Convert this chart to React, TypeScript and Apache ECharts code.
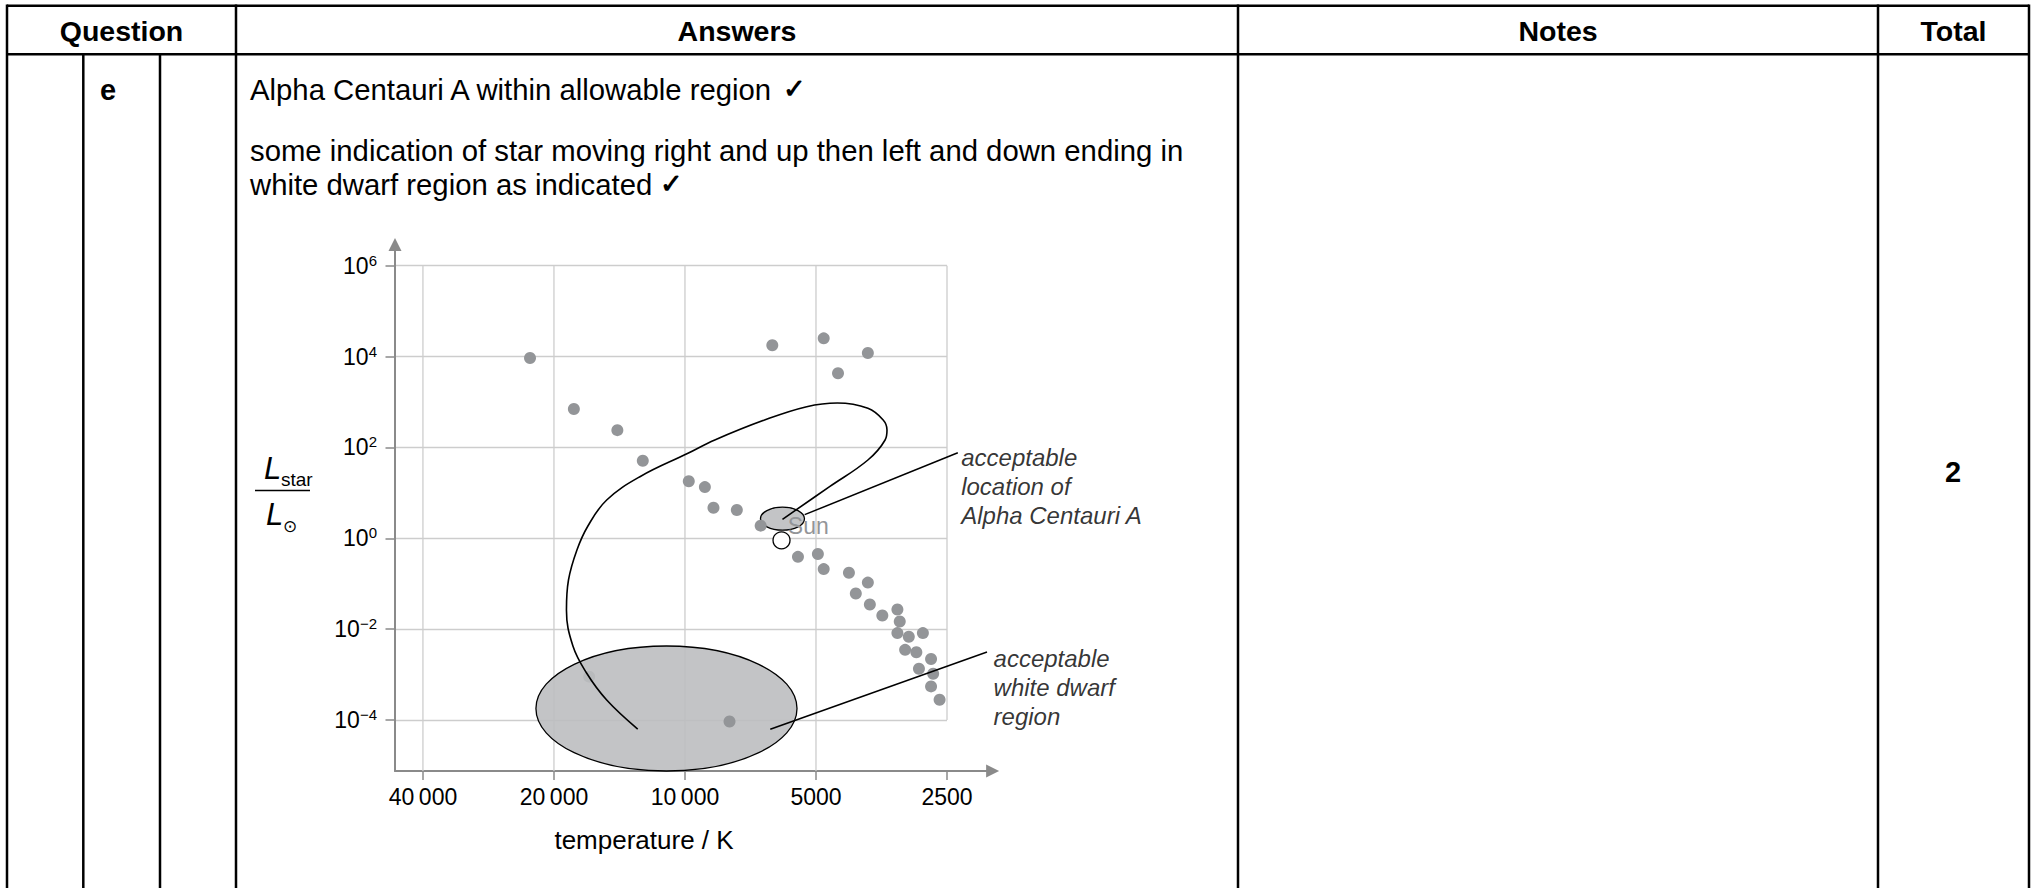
import React, { useEffect, useRef } from "react";
import * as echarts from "echarts";

// ---------------- data ----------------
const xTickTemps = [40000, 20000, 10000, 5000, 2500];
const xGridBottomLums = [7.55e-6, 7.55e-6, 7.55e-6, 7.55e-6, 1e-4];
const yTickLums = [1e-4, 1e-2, 1, 1e2, 1e4, 1e6];
const tempAxisHot = 46370;
const tempAxisCool = 2500;
const lumAxisMin = 7.55e-6;
const lumAxisMax = 1e6;

const mainSeqTemps = [22700, 18000, 14300, 12500, 9800, 9000, 8600, 7600, 6700, 5500, 4950, 4800, 4200, 3800, 4050, 3760, 3520, 3250, 3210, 3250, 3060, 2840, 3120, 2940, 2720, 2900, 2690, 2720, 2600];
const mainSeqLums = [9300, 700, 240, 51, 18, 13.4, 4.7, 4.2, 1.9, 0.39, 0.45, 0.21, 0.175, 0.106, 0.061, 0.035, 0.02, 0.027, 0.0147, 0.0082, 0.0068, 0.0082, 0.0035, 0.0031, 0.0022, 0.00134, 0.00104, 0.00055, 0.00028];
const giantTemps = [6300, 4800, 3800, 4450];
const giantLums = [17700, 25200, 12000, 4300];
const whiteDwarfTemps = [16600, 7900];
const whiteDwarfLums = [0.0009, 0.000093];
const hiddenDwarfIndex = 0; // this dot sits behind the shaded region
const sunTemp = 6000;
const sunLum = 0.9;

const trackTemps = [5970, 4653, 3799, 3469, 3434, 3504, 3799, 4466, 5252, 6563, 8540, 9843, 12690, 15130, 16710, 17710, 18520, 18720, 18090, 16830, 15130, 12840];
const trackLums = [2.62, 13.7, 52.9, 145.8, 242, 402, 727, 951, 789, 402, 146, 74.3, 22.7, 6.97, 1.866, 0.553, 0.1208, 0.02642, 0.004258, 0.001084, 0.000276, 0.0000634];

const regionHotTemps = [6707, 22000];
const regionCoolTemps = [5314, 5528];
const regionTopLums = [4.84, 0.004258];
const regionBottomLums = [1.507, 7.55e-6];

const leaderStartTemps = [5308, 6368];
const leaderStartLums = [3.31, 6.25e-5];
const leaderEndTemps = [2361, 2023];
const leaderEndLums = [76.6, 0.00314];

const noteTexts = ["acceptable\nlocation of\nAlpha Centauri A", "acceptable\nwhite dwarf\nregion"];
const noteTemps = [2313, 1949];
const noteLums = [122, 0.00471];

const headerTexts = ["Question", "Answers", "Notes", "Total"];
const answerLines = [
  "Alpha Centauri A within allowable region ",
  "some indication of star moving right and up then left and down ending in",
  "white dwarf region as indicated ",
];
const tickMark = "\u2713";
const questionPart = "e";
const totalMark = "2";

// ---------------- helpers ----------------
const FONT = '"Liberation Sans", Arial, Helvetica, sans-serif';
const tx = (t: number) => Math.round(Math.log2(t) * 1e9) / 1e9;
const ly = (l: number) => Math.round(Math.log10(l) * 1e9) / 1e9;
const pts = (ts: number[], ls: number[]) => ts.map((t, i) => [tx(t), ly(ls[i])]);

const DOT = "#939598";
const GRIDC = "#cdcdcd";
const AXISC = "#8a8a8a";

function fmtTemp(v: number) {
  const t = Math.round(Math.round(Math.pow(2, v)) / 100) * 100;
  if (t >= 10000) {
    return Math.floor(t / 1000) + "\u2009" + String(t % 1000).padStart(3, "0");
  }
  return String(t);
}
function fmtLum(v: number) {
  const e = Math.round(v);
  const s = e < 0 ? "\u2212" + Math.abs(e) : String(e);
  return "{b|10}{s|" + s + "}";
}

function txt(x: number, y: number, text: string, size: number, opts: any = {}) {
  return {
    type: "text",
    x,
    y,
    silent: true,
    style: {
      text,
      fill: "#000",
      fontSize: size,
      fontFamily: FONT,
      fontWeight: opts.bold ? "bold" : "normal",
      fontStyle: opts.italic ? "italic" : "normal",
      align: opts.align || "left",
      textAlign: opts.align || "left",
      verticalAlign: "middle",
      textVerticalAlign: "middle",
      rich: opts.rich,
    },
  };
}
function ln(x1: number, y1: number, x2: number, y2: number, w = 2.5) {
  return {
    type: "line",
    silent: true,
    shape: { x1, y1, x2, y2 },
    style: { stroke: "#000", lineWidth: w },
  };
}

export default function App() {
  const ref = useRef<HTMLDivElement>(null);
  useEffect(() => {
    const chart = echarts.init(ref.current as HTMLDivElement, null, { renderer: "svg", width: 2035, height: 888 });

    const answerRich = {
      a: { fontSize: 29.3, fontFamily: FONT, color: "#000" },
      c: { fontSize: 27, fontFamily: FONT, fontWeight: "bold", color: "#000" },
    };

    const colX = [7, 83.3, 160, 236, 1238, 1878, 2029];
    const topY = 5.7;
    const headY = 54.3;
    const table: any[] = [
      ln(colX[0], topY, colX[6], topY),
      ln(colX[0], headY, colX[6], headY),
      ln(colX[0], topY - 1.2, colX[0], 888),
      ln(colX[1], headY, colX[1], 888),
      ln(colX[2], headY, colX[2], 888),
      ln(colX[3], topY - 1.2, colX[3], 888),
      ln(colX[4], topY - 1.2, colX[4], 888),
      ln(colX[5], topY - 1.2, colX[5], 888),
      ln(colX[6], topY - 1.2, colX[6], 888),
      txt((colX[0] + colX[3]) / 2, 31, headerTexts[0], 28.5, { bold: true, align: "center" }),
      txt((colX[3] + colX[4]) / 2, 31, headerTexts[1], 28.5, { bold: true, align: "center" }),
      txt((colX[4] + colX[5]) / 2, 31, headerTexts[2], 28.5, { bold: true, align: "center" }),
      txt((colX[5] + colX[6]) / 2, 31, headerTexts[3], 28.5, { bold: true, align: "center" }),
      txt(108, 90, questionPart, 29, { bold: true, align: "center" }),
      txt(1953, 472, totalMark, 29, { bold: true, align: "center" }),
      txt(250, 89, "{a|" + answerLines[0] + "}{c|" + tickMark + "}", 29.3, { rich: answerRich }),
      txt(250, 150, answerLines[1], 29.3),
      txt(250, 184, "{a|" + answerLines[2] + "}{c|" + tickMark + "}", 29.3, { rich: answerRich }),
      // y-axis title: L_star / L_sun
      txt(264, 468, "L", 31, { italic: true }),
      txt(281, 479, "star", 19),
      ln(255, 490.5, 310, 490.5, 1.5),
      txt(266, 514, "L", 31, { italic: true }),
      txt(283, 526, "\u2299", 17),
    ];

    const ellipseData = regionHotTemps.map((t, i) => [tx(t), tx(regionCoolTemps[i]), ly(regionTopLums[i]), ly(regionBottomLums[i])]);
    const leaderData = leaderStartTemps.map((t, i) => [tx(t), ly(leaderStartLums[i]), tx(leaderEndTemps[i]), ly(leaderEndLums[i])]);
    const vGridData = xTickTemps.map((t, i) => [tx(t), ly(lumAxisMax), ly(xGridBottomLums[i])]);

    const mainPts = pts(mainSeqTemps, mainSeqLums)
      .concat(pts(giantTemps, giantLums))
      .concat(pts(whiteDwarfTemps, whiteDwarfLums).filter((_, i) => i !== hiddenDwarfIndex));
    const hiddenPts = pts(whiteDwarfTemps, whiteDwarfLums).filter((_, i) => i === hiddenDwarfIndex);

    const option: any = {
      animation: false,
      backgroundColor: "#fff",
      textStyle: { fontFamily: FONT },
      grid: [
        { left: 395, top: 265.7, width: 552, height: 505.3, containLabel: false },
        { left: 395, top: 244.5, width: 597.6, height: 526.5, containLabel: false },
      ],
      xAxis: [
        {
          type: "value",
          gridIndex: 0,
          min: tx(tempAxisCool),
          max: tx(tempAxisHot),
          inverse: true,
          axisLine: { show: false, onZero: false },
          axisTick: {
            show: true,
            length: 9,
            customValues: xTickTemps.map(tx),
            lineStyle: { color: AXISC, width: 1.5 },
          },
          axisLabel: {
            customValues: xTickTemps.map(tx),
            formatter: fmtTemp,
            fontSize: 23,
            fontFamily: FONT,
            color: "#000",
            margin: 14,
          },
          splitLine: { show: false },
          name: "temperature / K",
          nameLocation: "middle",
          nameGap: 56,
          nameTextStyle: { fontSize: 26, fontFamily: FONT, color: "#000", padding: [0, 54, 0, 0] },
        },
        {
          type: "value",
          gridIndex: 1,
          min: 0,
          max: 1,
          axisLine: {
            show: true,
            onZero: false,
            symbol: ["none", "triangle"],
            symbolSize: [13, 13],
            lineStyle: { color: AXISC, width: 2 },
          },
          axisTick: { show: false },
          axisLabel: { show: false },
          splitLine: { show: false },
        },
      ],
      yAxis: [
        {
          type: "value",
          gridIndex: 0,
          min: ly(lumAxisMin),
          max: ly(lumAxisMax),
          axisLine: { show: false, onZero: false },
          axisTick: {
            show: true,
            length: 9.5,
            customValues: yTickLums.map(ly),
            lineStyle: { color: AXISC, width: 1.5 },
          },
          axisLabel: {
            customValues: yTickLums.map(ly),
            formatter: fmtLum,
            margin: 18,
            rich: {
              b: { fontSize: 23, fontFamily: FONT, color: "#000", lineHeight: 26 },
              s: { fontSize: 15, fontFamily: FONT, color: "#000", lineHeight: 15, verticalAlign: "top" },
            },
          },
          splitLine: { show: true, lineStyle: { color: GRIDC, width: 1.3 } },
        },
        {
          type: "value",
          gridIndex: 1,
          min: 0,
          max: 1,
          axisLine: {
            show: true,
            onZero: false,
            symbol: ["none", "triangle"],
            symbolSize: [13, 13],
            lineStyle: { color: AXISC, width: 2 },
          },
          axisTick: { show: false },
          axisLabel: { show: false },
          splitLine: { show: false },
        },
      ],
      graphic: { elements: table },
      series: [
        {
          type: "custom",
          xAxisIndex: 0,
          yAxisIndex: 0,
          data: vGridData,
          encode: { x: 0, y: [1, 2] },
          silent: true,
          clip: false,
          z: 1,
          renderItem: (params: any, api: any) => {
            const p1 = api.coord([api.value(0), api.value(1)]);
            const p2 = api.coord([api.value(0), api.value(2)]);
            return {
              type: "line",
              shape: { x1: p1[0], y1: p1[1], x2: p2[0], y2: p2[1] },
              style: { stroke: GRIDC, lineWidth: 1.3, fill: null },
            };
          },
        },
        {
          type: "scatter",
          xAxisIndex: 0,
          yAxisIndex: 0,
          data: hiddenPts,
          symbolSize: 12,
          silent: true,
          z: 2,
          itemStyle: { color: DOT, opacity: 1 },
        },
        {
          type: "custom",
          xAxisIndex: 0,
          yAxisIndex: 0,
          data: ellipseData,
          encode: { x: [0, 1], y: [2, 3] },
          silent: true,
          clip: false,
          z: 3,
          renderItem: (params: any, api: any) => {
            const p1 = api.coord([api.value(0), api.value(2)]);
            const p2 = api.coord([api.value(1), api.value(3)]);
            return {
              type: "ellipse",
              shape: {
                cx: (p1[0] + p2[0]) / 2,
                cy: (p1[1] + p2[1]) / 2,
                rx: Math.abs(p2[0] - p1[0]) / 2,
                ry: Math.abs(p2[1] - p1[1]) / 2,
              },
              style: { fill: "rgba(189,190,192,0.9)", stroke: "#000", lineWidth: 1.3 },
            };
          },
        },
        {
          type: "scatter",
          xAxisIndex: 0,
          yAxisIndex: 0,
          data: mainPts,
          symbolSize: 12,
          silent: true,
          z: 4,
          itemStyle: { color: DOT, opacity: 1 },
        },
        {
          type: "line",
          xAxisIndex: 0,
          yAxisIndex: 0,
          data: pts(trackTemps, trackLums),
          smooth: 0.4,
          showSymbol: false,
          symbol: "none",
          clip: false,
          silent: true,
          z: 5,
          lineStyle: { color: "#000", width: 1.6 },
        },
        {
          type: "custom",
          xAxisIndex: 0,
          yAxisIndex: 0,
          data: leaderData,
          encode: { x: [0, 2], y: [1, 3] },
          silent: true,
          clip: false,
          z: 5,
          renderItem: (params: any, api: any) => {
            const p1 = api.coord([api.value(0), api.value(1)]);
            const p2 = api.coord([api.value(2), api.value(3)]);
            return {
              type: "line",
              shape: { x1: p1[0], y1: p1[1], x2: p2[0], y2: p2[1] },
              style: { stroke: "#000", lineWidth: 1.5, fill: null },
            };
          },
        },
        {
          type: "scatter",
          xAxisIndex: 0,
          yAxisIndex: 0,
          data: [[tx(sunTemp), ly(sunLum)]],
          symbolSize: 17,
          silent: true,
          z: 6,
          itemStyle: { color: "#fff", borderColor: "#000", borderWidth: 1.3, opacity: 1 },
          label: {
            show: true,
            formatter: "Sun",
            position: [15.5, -5.5],
            align: "left",
            verticalAlign: "middle",
            fontSize: 23,
            fontFamily: FONT,
            color: DOT,
          },
        },
        {
          type: "scatter",
          xAxisIndex: 0,
          yAxisIndex: 0,
          data: noteTemps.map((t, i) => ({ value: [tx(t), ly(noteLums[i])], name: noteTexts[i] })),
          symbolSize: 1,
          silent: true,
          clip: false,
          z: 6,
          itemStyle: { color: "rgba(0,0,0,0)" },
          label: {
            show: true,
            formatter: (p: any) => p.name,
            position: [0, 0],
            align: "left",
            verticalAlign: "top",
            fontSize: 24,
            lineHeight: 29,
            fontStyle: "italic",
            fontFamily: FONT,
            color: "#000",
          },
        },
      ],
    };
    chart.setOption(option);
    return () => chart.dispose();
  }, []);
  return (
    <div
      ref={ref}
      style={{ position: "fixed", left: 0, top: 0, width: 2035, height: 888, background: "#fff" }}
    />
  );
}
